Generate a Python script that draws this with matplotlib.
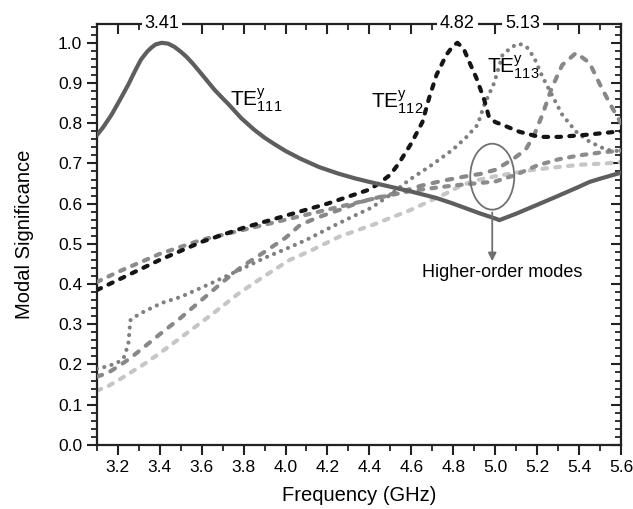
import matplotlib
matplotlib.use("Agg")
import matplotlib.pyplot as plt
from matplotlib.patches import Ellipse
from matplotlib.ticker import MultipleLocator
from matplotlib.lines import TICKDOWN, TICKLEFT

plt.rcParams['font.family'] = ['Liberation Sans', 'DejaVu Sans']
plt.rcParams['mathtext.fontset'] = 'custom'
plt.rcParams['mathtext.rm'] = 'Liberation Sans'
plt.rcParams['mathtext.it'] = 'Liberation Sans'

# ---- data ----
f_a = [3.10, 3.13, 3.17, 3.21, 3.25, 3.28, 3.31, 3.34, 3.36, 3.38, 3.41, 3.44, 3.47, 3.50, 3.53,
       3.56, 3.60, 3.63, 3.66, 3.70, 3.725, 3.76, 3.79, 3.85, 3.90, 3.95, 4.00, 4.07, 4.16, 4.25,
       4.33, 4.40, 4.50, 4.60, 4.72, 4.80, 4.92, 5.00, 5.02, 5.10, 5.20, 5.29, 5.40, 5.45, 5.50,
       5.60]
te111 = [0.77, 0.79, 0.821, 0.858, 0.896, 0.928, 0.958, 0.978, 0.988, 0.996, 1.0, 0.998, 0.99, 0.978,
         0.964, 0.947, 0.922, 0.903, 0.884, 0.862, 0.849, 0.829, 0.812, 0.784, 0.764, 0.747, 0.731,
         0.712, 0.691, 0.675, 0.663, 0.654, 0.642, 0.63, 0.614, 0.60, 0.577, 0.563, 0.559, 0.575,
         0.597, 0.617, 0.642, 0.654, 0.662, 0.677]

f_b = [3.10, 3.20, 3.40, 3.60, 3.80, 4.00, 4.20, 4.40, 4.45, 4.50, 4.54, 4.60, 4.653, 4.685, 4.72,
       4.767, 4.80, 4.82, 4.85, 4.876, 4.91, 4.948, 4.97, 5.00, 5.035, 5.114, 5.21, 5.305, 5.43, 5.60]
te112 = [0.385, 0.41, 0.46, 0.505, 0.54, 0.57, 0.60, 0.635, 0.652, 0.672, 0.70, 0.75, 0.803, 0.863, 0.92,
         0.97, 0.993, 1.0, 0.985, 0.953, 0.913, 0.858, 0.816, 0.803, 0.796, 0.779, 0.766, 0.766, 0.771, 0.78]

f_d = [3.10, 3.15, 3.20, 3.23, 3.25, 3.26, 3.30, 3.41, 3.50, 3.65, 3.78, 3.90, 4.00, 4.10, 4.20,
       4.30, 4.41, 4.50, 4.59, 4.70, 4.797, 4.86, 4.916, 4.948, 4.995, 5.035, 5.08, 5.114, 5.15,
       5.186, 5.225, 5.27, 5.32, 5.386, 5.45, 5.53, 5.60]
te113 = [0.19, 0.195, 0.205, 0.219, 0.25, 0.31, 0.325, 0.353, 0.368, 0.403, 0.435, 0.465, 0.487, 0.51,
         0.537, 0.563, 0.59, 0.622, 0.659, 0.697, 0.734, 0.764, 0.796, 0.846, 0.90, 0.97, 0.99, 0.998,
         0.99, 0.963, 0.916, 0.871, 0.821, 0.779, 0.754, 0.734, 0.73]

f_c = [3.10, 3.20, 3.40, 3.60, 3.80, 4.00, 4.20, 4.40, 4.60, 4.80, 5.00, 5.10, 5.20, 5.30, 5.40, 5.50, 5.60]
hom1 = [0.405, 0.43, 0.475, 0.51, 0.535, 0.56, 0.585, 0.61, 0.632, 0.645, 0.655, 0.672, 0.695, 0.71,
        0.72, 0.727, 0.732]

f_e = [3.10, 3.15, 3.23, 3.26, 3.32, 3.40, 3.50, 3.61, 3.70, 3.79, 3.90, 4.00, 4.07, 4.15, 4.26,
       4.35, 4.43, 4.54, 4.65, 4.75, 4.85, 4.93, 5.00, 5.08, 5.145, 5.186, 5.225, 5.27, 5.32, 5.386,
       5.45, 5.50, 5.55, 5.60]
hom2 = [0.17, 0.178, 0.205, 0.216, 0.241, 0.275, 0.316, 0.365, 0.405, 0.443, 0.48, 0.515, 0.547, 0.565,
        0.585, 0.603, 0.614, 0.628, 0.645, 0.657, 0.667, 0.674, 0.684, 0.709, 0.734, 0.771, 0.821,
        0.888, 0.945, 0.975, 0.95, 0.896, 0.846, 0.80]

f_f = [3.10, 3.15, 3.20, 3.32, 3.40, 3.55, 3.65, 3.78, 3.90, 4.02, 4.12, 4.257, 4.43, 4.60, 4.78,
       4.83, 4.90, 5.00, 5.10, 5.18, 5.30, 5.41, 5.53, 5.60]
hom3 = [0.135, 0.145, 0.16, 0.199, 0.228, 0.286, 0.325, 0.378, 0.42, 0.46, 0.483, 0.518, 0.55, 0.585,
        0.629, 0.643, 0.657, 0.668, 0.677, 0.684, 0.691, 0.697, 0.70, 0.704]

xticks = [3.2, 3.4, 3.6, 3.8, 4.0, 4.2, 4.4, 4.6, 4.8, 5.0, 5.2, 5.4, 5.6]
yticks = [0.0, 0.1, 0.2, 0.3, 0.4, 0.5, 0.6, 0.7, 0.8, 0.9, 1.0]
peaks = [3.41, 4.82, 5.13]

# ---- figure ----
fig = plt.figure(figsize=(6.33, 5.09), dpi=100)
ax = fig.add_axes([0.153, 0.126, 0.828, 0.827])

ax.plot(f_f, hom3, color='#c6c6c6', lw=3.0, dashes=(1.1, 2.0), dash_capstyle='round', zorder=2)
ax.plot(f_c, hom1, color='#8c8c8c', lw=3.0, dashes=(1.1, 2.0), dash_capstyle='round', zorder=3)
ax.plot(f_e, hom2, color='#888888', lw=3.0, dashes=(1.3, 2.2), dash_capstyle='round', zorder=3)
ax.plot(f_d, te113, color='#808080', lw=3.0, dashes=(0.01, 1.8), dash_capstyle='round', zorder=4)
ax.plot(f_b, te112, color='#151515', lw=3.0, dashes=(1.1, 2.0), dash_capstyle='round', zorder=5)
ax.plot(f_a, te111, color='#5e5e5e', lw=3.0, solid_capstyle='round', solid_joinstyle='round', zorder=6)

ax.set_xlim(3.1, 5.6)
ax.set_ylim(0.0, 1.047)
ax.set_xticks(xticks)
ax.set_yticks(yticks)
ax.set_xticklabels([f"{v:.1f}" for v in xticks])
ax.set_yticklabels([f"{v:.1f}" for v in yticks])
ax.xaxis.set_minor_locator(MultipleLocator(0.1))
ax.yaxis.set_minor_locator(MultipleLocator(0.02))

ax.tick_params(axis='x', which='major', direction='out', length=7, width=1.5, labelsize=12.5,
               top=True, color='#222222', pad=4)
ax.tick_params(axis='x', which='minor', direction='out', length=4, width=1.3, top=True, color='#222222')
ax.tick_params(axis='y', which='major', direction='out', length=7, width=1.5, labelsize=12.5,
               right=True, color='#222222')
ax.tick_params(axis='y', which='minor', direction='out', length=4, width=1.3, right=True, color='#222222')
for t in ax.xaxis.get_major_ticks() + ax.xaxis.get_minor_ticks():
    t.tick2line.set_marker(TICKDOWN)
for t in ax.yaxis.get_major_ticks() + ax.yaxis.get_minor_ticks():
    t.tick2line.set_marker(TICKLEFT)

for s in ax.spines.values():
    s.set_linewidth(1.6)
    s.set_color('#222222')

ax.set_xlabel('Frequency (GHz)', fontsize=14.5, labelpad=8)
ax.set_ylabel('Modal Significance', fontsize=14.5, labelpad=17)

for p in peaks:
    ax.text(p, 1.047, f"{p:.2f}", ha='center', va='center', fontsize=13, zorder=10,
            bbox=dict(facecolor='white', edgecolor='none', pad=2.0), clip_on=False)

ax.text(3.733, 0.858, r'TE$^{\mathrm{y}}_{\mathrm{111}}$', fontsize=15, ha='left', va='center', zorder=8)
ax.text(4.41, 0.853, r'TE$^{\mathrm{y}}_{\mathrm{112}}$', fontsize=15, ha='left', va='center', zorder=8)
ax.text(4.96, 0.94, r'TE$^{\mathrm{y}}_{\mathrm{113}}$', fontsize=15, ha='left', va='center', zorder=8)

ax.add_patch(Ellipse((4.986, 0.667), 0.21, 0.164, fill=False, edgecolor='#707070', lw=1.3, zorder=7))
ax.annotate('', xy=(4.986, 0.45), xytext=(4.986, 0.585),
            arrowprops=dict(arrowstyle='-|>', color='#707070', lw=1.3, mutation_scale=12), zorder=7)
ax.text(5.033, 0.428, 'Higher-order modes', fontsize=13, ha='center', va='center')

fig.savefig('out.png', dpi=100)
